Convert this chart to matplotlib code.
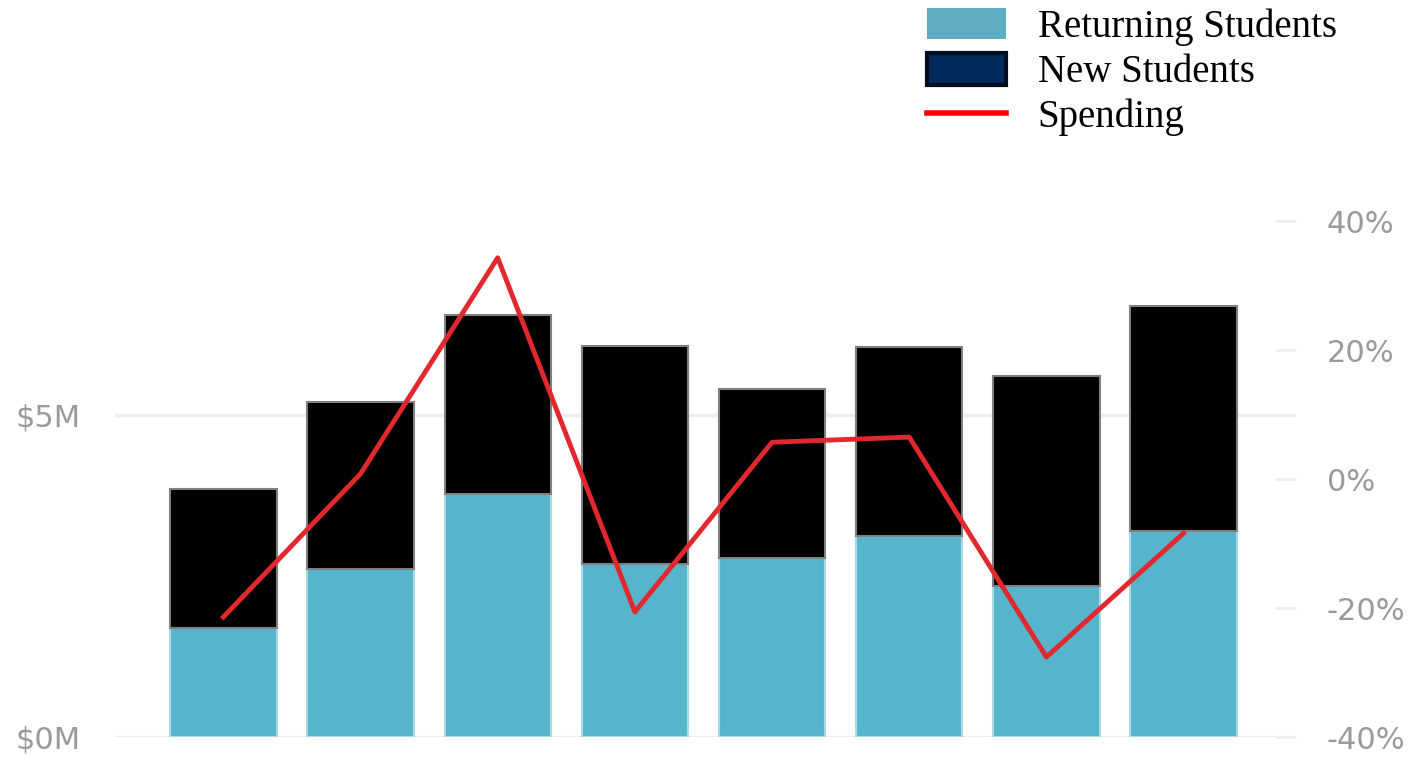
import matplotlib.pyplot as plt
from matplotlib.patches import Patch
from matplotlib.lines import Line2D
import numpy as np

# values (x labels are cut off in the original)
returning = [1.69, 2.61, 3.77, 2.69, 2.78, 3.12, 2.34, 3.20]
new = [2.15, 2.58, 2.78, 3.37, 2.61, 2.92, 3.25, 3.48]
spending = [-21.4, 0.8, 34.3, -20.6, 5.7, 6.5, -27.6, -8.4]
left_ticks = [0, 5]
left_labels = ['\\$0M', '\\$5M']
right_ticks = [-40, -20, 0, 20, 40]
right_labels = ['-40%', '-20%', '0%', '20%', '40%']

ret_color = '#57b5cb'
new_color = '#000000'
line_color = '#e0282e'
tick_grey = '#9a9a9a'

fig = plt.figure(figsize=(14.16, 7.58), dpi=100)
ax = fig.add_axes([0.0812, 0.0277, 0.8341, 0.6807])
x = np.arange(len(returning))

ax.bar(x, returning, width=0.775, color=ret_color, edgecolor='#a9d9e5', linewidth=1.5, zorder=2)
ax.bar(x, new, bottom=returning, width=0.775, color=new_color, edgecolor='#808080', linewidth=1.5, zorder=2)

ax.set_ylim(0, 8)
ax.set_xlim(-0.79, 7.82)
ax.set_yticks(left_ticks)
ax.set_yticklabels(left_labels)
ax.set_xticks([])
ax.grid(axis='y', color='#eeeeee', linewidth=2.5, zorder=0)
for s in ax.spines.values():
    s.set_visible(False)
ax.tick_params(axis='y', length=0, pad=25, labelsize=22, labelcolor=tick_grey)

ax2 = ax.twinx()
ax2.plot(x, spending, color=line_color, linewidth=3.5, zorder=3)
ax2.set_ylim(-40, 40)
ax2.set_yticks(right_ticks)
ax2.set_yticklabels(right_labels)
for s in ax2.spines.values():
    s.set_visible(False)
ax2.tick_params(axis='y', direction='in', length=15, width=2, color='#eeeeee',
                pad=22, labelsize=22, labelcolor=tick_grey)

handles = [
    Patch(facecolor='#5fadc2', edgecolor='none'),
    Patch(facecolor='#002b5a', edgecolor='#000d1f', linewidth=3),
    Line2D([0], [0], color='#ff0000', linewidth=4),
]
fig.legend(handles, ['Returning Students', 'New Students', 'Spending'],
           loc='upper left', bbox_to_anchor=(0.649, 1.0), frameon=False,
           prop={'family': 'Liberation Serif', 'size': 28},
           handlelength=2.05, handleheight=0.87, handletextpad=0.8,
           labelspacing=0.18, borderpad=0.2, borderaxespad=0)

fig.savefig('out.png', dpi=100)
